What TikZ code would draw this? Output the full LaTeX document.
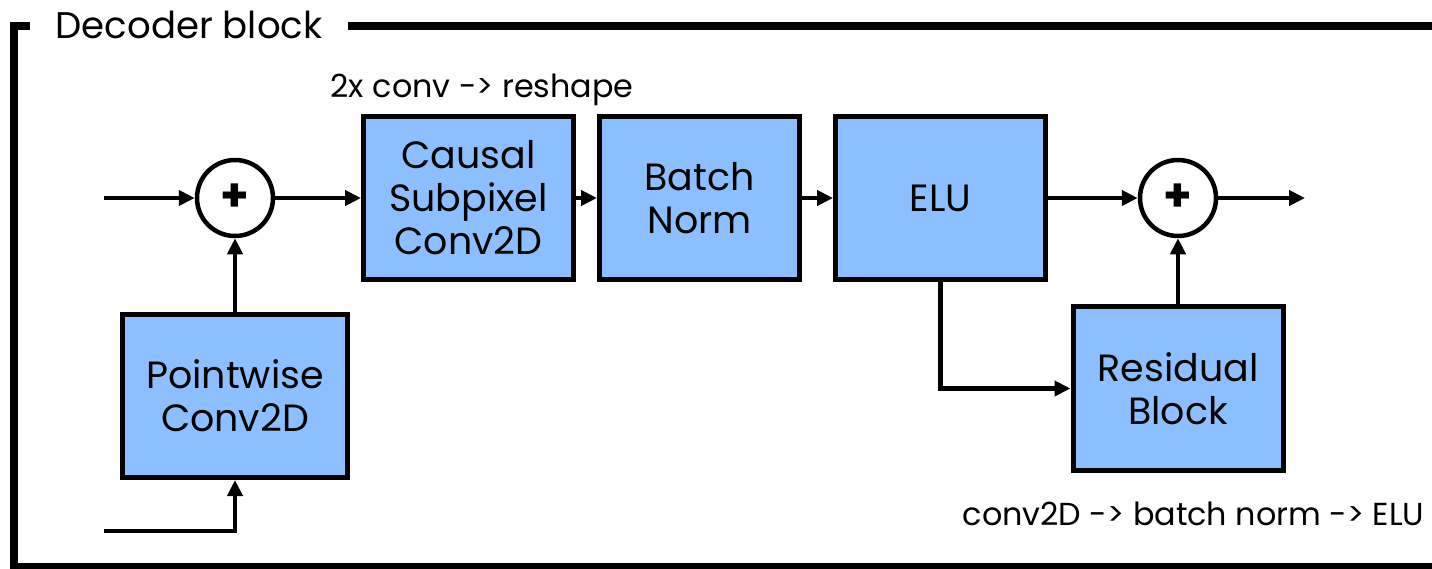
\documentclass[tikz,border=0pt]{standalone}
\usepackage{fontspec}
\setmainfont{Poppins}
\usetikzlibrary{arrows.meta}

\definecolor{blockblue}{RGB}{140,191,255}

\tikzset{
    blockbox/.style={draw, fill=blockblue, line width=0.05cm, minimum width=2.10cm,
        minimum height=1.63cm, align=center, inner sep=0pt,
        font=\fontsize{10.8}{12.2}\selectfont},
    sumnode/.style={draw, circle, fill=white, line width=0.045cm, minimum size=0.76cm,
        inner sep=0pt, font=\fontsize{13}{14}\selectfont\bfseries},
    flowarrow/.style={line width=0.045cm, -{Triangle[length=0.16cm, width=0.15cm]}},
    framebar/.style={line width=0.08cm},
    notetext/.style={anchor=base west, inner sep=0pt, font=\fontsize{9.05}{11}\selectfont},
}

\begin{document}
\begin{tikzpicture}
                \useasboundingbox (0,0) rectangle (14.32,5.68);
                
                % Drawing frame
                \draw [framebar] (0.30,5.42) -- (0.14,5.42) -- (0.14,0.01) -- (14.50,0.01);%
                \draw [framebar] (3.48,5.42) -- (14.50,5.42);%
                \node [anchor=base west, inner sep=0pt, font=\fontsize{10.55}{12}\selectfont] (title) at (0.55,5.30) {Decoder block};%
                
                % Marking free ends
                \coordinate (in1) at (1.04,3.70);%
                \coordinate (in2) at (1.04,0.37);%
                \coordinate (out) at (13.05,3.70);%
                
                % Marking sums
                \node [sumnode] (sum1) at (2.35,3.70) {+};%
                \node [sumnode] (sum2) at (11.78,3.70) {+};%
                
                % Marking blocks
                \node [blockbox] (causal) at (4.685,3.70) {Causal\\Subpixel\\Conv2D};%
                \node [blockbox, minimum width=2.00cm] (batch) at (6.995,3.70) {Batch\\Norm};%
                \node [blockbox] (elu) at (9.405,3.70) {ELU};%
                \node [blockbox, minimum width=2.25cm] (point) at (2.35,1.72) {Pointwise\\Conv2D};%
                \node [blockbox, minimum height=1.64cm] (resid) at (11.78,1.795) {Residual\\Block};%
                
                % Marking notes
                \node [notetext] (note1) at (3.30,4.71) {2x conv -> reshape};%
                \node [notetext] (note2) at (9.62,0.43) {conv2D -> batch norm -> ELU};%
                
                % Drawing main path
                \draw [flowarrow] (in1) -- (sum1.west);%
                \draw [flowarrow] (sum1) -- (causal);%
                \draw [flowarrow] (causal) -- (batch);%
                \draw [flowarrow] (batch) -- (elu);%
                \draw [flowarrow] (elu) -- (sum2);%
                \draw [flowarrow] (sum2) -- (out);%
                
                % Drawing side paths
                \draw [flowarrow] (in2) -| (point.south);%
                \draw [flowarrow] (point) -- (sum1);%
                \draw [flowarrow] (elu.south) |- (resid.west);%
                \draw [flowarrow] (resid) -- (sum2);%
\end{tikzpicture}
\end{document}
